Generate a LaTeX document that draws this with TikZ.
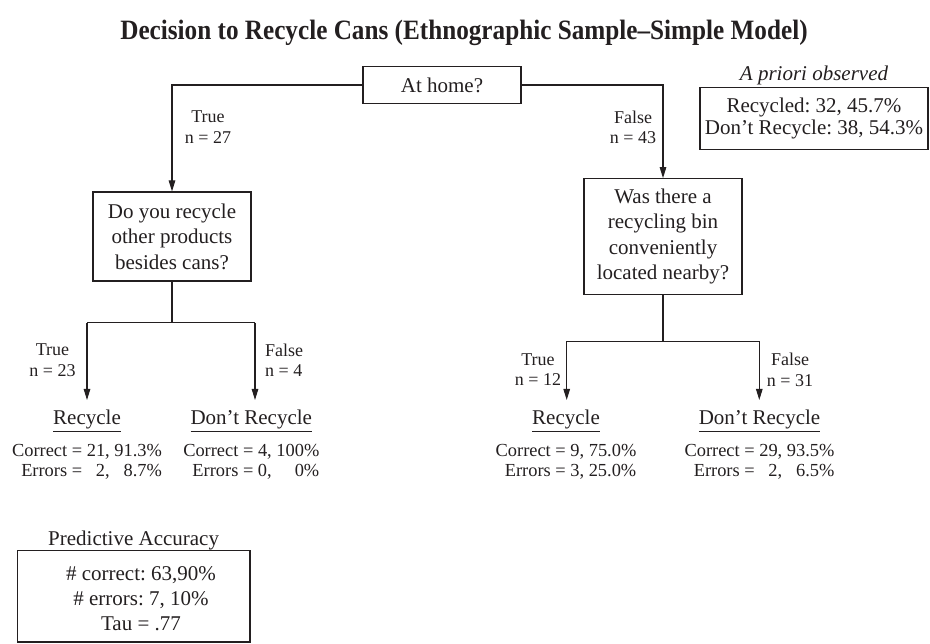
\documentclass[tikz,border=0pt]{standalone}
\usepackage{fontspec}
\setmainfont{Liberation Serif}
\newfontfamily\titlefont{Liberation Serif}[FakeStretch=0.9,Ligatures=TeX]
\usetikzlibrary{arrows.meta}
\definecolor{ink}{HTML}{231F20}
\begin{document}
\frenchspacing
\begin{tikzpicture}[x=1pt,y=-1pt,
  box/.style={draw=ink, line width=1.1pt, text=ink, inner sep=0pt, align=center, font=\fontsize{21}{25.5}\selectfont},
  lbl/.style={text=ink, align=center, inner sep=0pt, font=\fontsize{18}{20.5}\selectfont},
  leaf/.style={text=ink, inner xsep=0pt, inner ysep=10pt, anchor=north, font=\fontsize{21}{25}\selectfont},
  stat/.style={text=ink, inner sep=0pt, anchor=north, font=\fontsize{18.4}{20}\selectfont},
  plain/.style={text=ink, inner sep=0pt, align=center, font=\fontsize{21}{25}\selectfont},
  edge/.style={draw=ink, line width=1.1pt},
  arr/.style={edge, -{Triangle[length=11pt,width=6.5pt]}}
]
\useasboundingbox (0,0) rectangle (930,644);

\node[text=ink, inner sep=0pt, font=\titlefont\bfseries\fontsize{28}{32}\selectfont] (title) at (464,33) {Decision to Recycle Cans (Ethnographic Sample–Simple Model)};

\node[box, minimum width=158pt, minimum height=37pt] (home) at (442,85) {At home?};
\node[box, minimum width=158pt, minimum height=89pt] (do) at (172,236.5) {Do you recycle\\other products\\besides cans?};
\node[box, minimum width=158pt, minimum height=116pt] (was) at (663,236.7) {Was there a\\recycling bin\\conveniently\\located nearby?};

\node[plain, font=\itshape\fontsize{21}{25}\selectfont] (priorT) at (814,75) {A priori observed};
\node[box, minimum width=228pt, minimum height=62pt, font=\fontsize{21}{22.5}\selectfont] (prior) at (814,118.3) {Recycled: 32, 45.7\%\\Don’t Recycle: 38, 54.3\%};

\node[lbl] (t27) at (208,127) {True\\n = 27};
\node[lbl] (f43) at (633,127.3) {False\\n = 43};

\draw[arr] (home.west) -- (home.west -| do.north) -- (do.north);
\draw[arr] (home.east) -- (home.east -| was.north) -- (was.north);

% left subtree
\coordinate (dsplit) at (172,322.7);
\coordinate (dl) at (87,322.7);
\coordinate (dr) at (255,322.7);
\node[leaf] (r1) at (87,400) {\underline{Recycle}};
\node[leaf] (n1) at (251.3,400) {\underline{Don’t Recycle}};
\draw[edge] (do.south) -- (dsplit);
\draw[edge] (dl) -- (dr);
\draw[arr] (dl) -- (dl |- r1.north);
\draw[arr] (dr) -- (dr |- n1.north);
\node[lbl] (t23) at (52.5,360.3) {True\\n = 23};
\node[lbl, align=left, anchor=west] (f4) at (265,360.3) {False\\n = 4};
\node[stat] (s1) at (87,442.8) {\begin{tabular}{@{}r@{\ =\ }r@{,\ }r@{}}Correct & 21 & 91.3\%\\ Errors & 2 & 8.7\%\end{tabular}};
\node[stat] (s2) at (251.3,442.8) {\begin{tabular}{@{}r@{\ =\ }r@{,\ }r@{}}Correct & 4 & 100\%\\ Errors & 0 & 0\%\end{tabular}};

% right subtree
\coordinate (wsplit) at (663,341.3);
\coordinate (wl) at (566.7,341.3);
\coordinate (wr) at (759.3,341.3);
\node[leaf] (r2) at (566,400) {\underline{Recycle}};
\node[leaf] (n2) at (759.5,400) {\underline{Don’t Recycle}};
\draw[edge] (was.south) -- (wsplit);
\draw[edge] (wl) -- (wr);
\draw[arr] (wl) -- (wl |- r2.north);
\draw[arr] (wr) -- (wr |- n2.north);
\node[lbl] (t12) at (538,369.6) {True\\n = 12};
\node[lbl] (f31) at (790,369.6) {False\\n = 31};
\node[stat] (s3) at (566,442.8) {\begin{tabular}{@{}r@{\ =\ }r@{,\ }r@{}}Correct & 9 & 75.0\%\\ Errors & 3 & 25.0\%\end{tabular}};
\node[stat] (s4) at (759.5,442.8) {\begin{tabular}{@{}r@{\ =\ }r@{,\ }r@{}}Correct & 29 & 93.5\%\\ Errors & 2 & 6.5\%\end{tabular}};

% predictive accuracy
\node[plain] (paT) at (133.6,540) {Predictive Accuracy};
\node[draw=ink, line width=1.1pt, inner sep=0pt, minimum width=232.7pt, minimum height=91.3pt] (pa) at (133.6,596.3) {};
\node[plain] (paTxt) at (141,599) {\# correct: 63,90\%\\\# errors: 7, 10\%\\Tau = .77};
\end{tikzpicture}
\end{document}
